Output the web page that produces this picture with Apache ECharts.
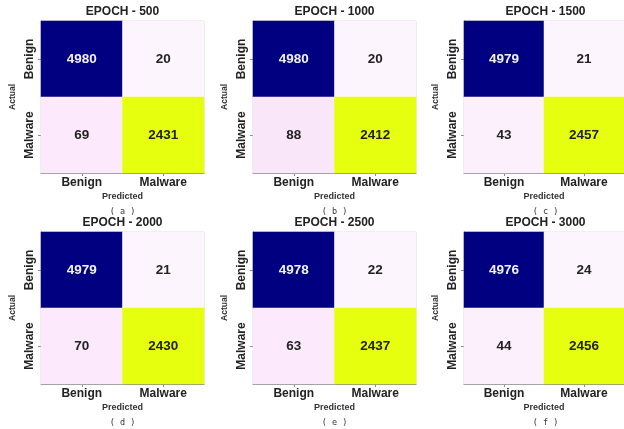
<!DOCTYPE html>
<html>
<head>
<meta charset="utf-8">
<script src="https://cdn.jsdelivr.net/npm/echarts@6/dist/echarts.min.js"></script>
<style>
  html, body { margin: 0; padding: 0; background: #fff; }
  #chart { width: 624px; height: 429px; }
</style>
</head>
<body>
<div id="chart"></div>
<script>
// Confusion matrices for six training checkpoints
const epochs = [500, 1000, 1500, 2000, 2500, 3000];
const captions = ['a', 'b', 'c', 'd', 'e', 'f'];
const classes = ['Benign', 'Malware'];
// actual Benign row
const benignAsBenign = [4980, 4980, 4979, 4979, 4978, 4976];
const benignAsMalware = [20, 20, 21, 21, 22, 24];
// actual Malware row
const malwareAsBenign = [69, 88, 43, 70, 63, 44];
const malwareAsMalware = [2431, 2412, 2457, 2430, 2437, 2456];

const FONT = "'Liberation Sans', Arial, sans-serif";
const colLeft = [41, 253, 464];
const rowTop = [21, 232];
const cellW = 163, cellH = 152;

const grids = [], xAxes = [], yAxes = [], series = [], titles = [], visualMaps = [];

epochs.forEach((ep, i) => {
  const left = colLeft[i % 3];
  const top = rowTop[Math.floor(i / 3)];
  const cx = left + cellW / 2;

  grids.push({
    left: left, top: top, width: cellW, height: cellH,
    show: true, borderColor: '#d8d8d8', borderWidth: 1, backgroundColor: 'transparent'
  });

  xAxes.push({
    type: 'category', gridIndex: i, data: classes,
    name: 'Predicted', nameLocation: 'middle', nameGap: 19,
    nameTextStyle: { fontFamily: FONT, fontWeight: 'bold', fontSize: 9, color: '#333' },
    axisLine: { show: true, lineStyle: { color: '#8a8a8a', width: 1 } },
    axisTick: { show: true, alignWithLabel: true, length: 3, lineStyle: { color: '#8a8a8a' } },
    axisLabel: { fontFamily: FONT, fontWeight: 'bold', fontSize: 12, color: '#222', margin: 4 },
    splitLine: { show: false }
  });

  yAxes.push({
    type: 'category', gridIndex: i, data: ['Malware', 'Benign'],
    name: 'Actual', nameLocation: 'middle', nameGap: 24,
    nameTextStyle: { fontFamily: FONT, fontWeight: 'bold', fontSize: 8.5, color: '#333' },
    axisLine: { show: true, lineStyle: { color: '#8a8a8a', width: 1 } },
    axisTick: { show: true, alignWithLabel: true, length: 3, lineStyle: { color: '#8a8a8a' } },
    axisLabel: { fontFamily: FONT, fontWeight: 'bold', fontSize: 12, color: '#222', rotate: 90, margin: 5 },
    splitLine: { show: false }
  });

  const cells = [
    [0, 1, benignAsBenign[i]],
    [1, 1, benignAsMalware[i]],
    [0, 0, malwareAsBenign[i]],
    [1, 0, malwareAsMalware[i]]
  ];

  series.push({
    type: 'heatmap', xAxisIndex: i, yAxisIndex: i,
    data: cells.map(c => ({
      value: c,
      label: { color: c[2] > 4000 ? '#f2f2fa' : '#222' }
    })),
    label: { show: true, fontFamily: FONT, fontWeight: 'bold', fontSize: 13.5 },
    itemStyle: { borderWidth: 0 },
    emphasis: { disabled: true }
  });

  visualMaps.push({
    type: 'piecewise', show: false, seriesIndex: i, dimension: 2,
    pieces: [
      { lt: 30, color: '#fdf5fd' },
      { gte: 30, lt: 55, color: '#fdf0fd' },
      { gte: 55, lt: 80, color: '#fceafc' },
      { gte: 80, lt: 1000, color: '#f9e6f9' },
      { gte: 1000, lt: 4000, color: '#e6ff0e' },
      { gte: 4000, color: '#000080' }
    ]
  });

  titles.push({
    text: 'EPOCH - ' + ep,
    left: cx, top: top - 15, textAlign: 'center', padding: 0,
    textStyle: { fontFamily: FONT, fontWeight: 'bold', fontSize: 12, color: '#222' }
  });
  titles.push({
    text: '( ' + captions[i] + ' )',
    left: cx, top: top + 186, textAlign: 'center', padding: 0,
    textStyle: { fontFamily: "'DejaVu Sans Mono', monospace", fontWeight: 'normal', fontSize: 8.5, color: '#333' }
  });
});

const chart = echarts.init(document.getElementById('chart'), null, { renderer: 'canvas' });
chart.setOption({
  animation: false,
  backgroundColor: '#ffffff',
  title: titles,
  grid: grids,
  xAxis: xAxes,
  yAxis: yAxes,
  visualMap: visualMaps,
  series: series
});
</script>
</body>
</html>
